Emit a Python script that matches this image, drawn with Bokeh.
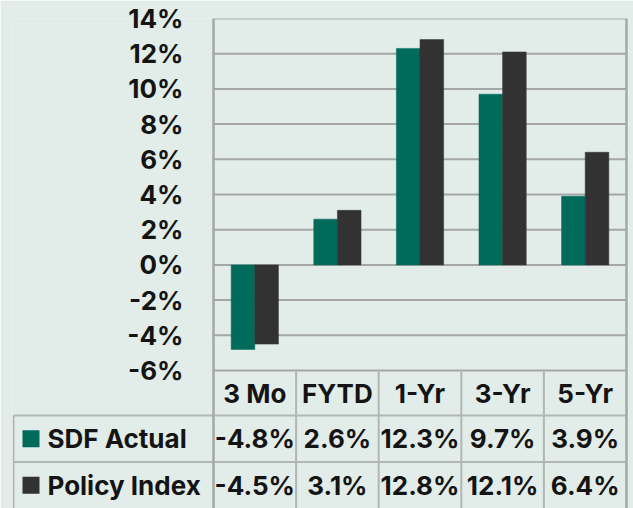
from bokeh.plotting import figure
from bokeh.models import Range1d, FixedTicker, PrintfTickFormatter, ColumnDataSource
from bokeh.core.properties import value
from bokeh.embed import file_html
from bokeh.resources import INLINE

# ---- data ----
categories = ["3 Mo", "FYTD", "1-Yr", "3-Yr", "5-Yr"]
sdf_actual = [-4.8, 2.6, 12.3, 9.7, 3.9]
policy_index = [-4.5, 3.1, 12.8, 12.1, 6.4]
series_names = ["SDF Actual", "Policy Index"]
y_ticks = [-6, -4, -2, 0, 2, 4, 6, 8, 10, 12, 14]

# ---- style / layout ----
BG = "#E2ECE8"
GREEN = "#006A5B"
DARK = "#323232"
GRID = "#A4A7A6"
TLINE = "#B2B6B4"
TXT = "#141414"
FONT = "Inter"
FS = "26px"

W, H = 633, 508
border_left, border_right, border_top = 12, 5, 18
label_col_px = 201.0          # width of the table's row-label column
col_px = 82.6                 # width of one category column
px_per_unit = 17.6            # pixels per 1 %
header_px = 45.0
row_px = 46.5
ncat = len(categories)
nrows = len(series_names)
y_min, y_max = y_ticks[0], y_ticks[-1]

x_start = -label_col_px / col_px
x_end = ncat + 2.0 / col_px
frame_h = H - border_top
y_start = y_max - frame_h / px_per_unit
header_u = header_px / px_per_unit
row_u = row_px / px_per_unit
header_bot = y_min - header_u
table_bot = y_start

p = figure(x_range=Range1d(x_start, x_end), y_range=Range1d(y_start, y_max),
           width=W, height=H, output_backend="svg", toolbar_location=None,
           x_axis_location=None,
           min_border_left=border_left, min_border_right=border_right,
           min_border_top=border_top, min_border_bottom=0,
           background_fill_color=BG, border_fill_color=BG)
p.outline_line_color = None
p.xgrid.visible = False
p.ygrid.visible = False

# grid lines (from the y ticks, across the category area only)
p.segment(x0=[0] * len(y_ticks), y0=y_ticks, x1=[ncat] * len(y_ticks), y1=y_ticks,
          line_color=GRID, line_width=2)

# bars
xc = [i + 0.5 for i in range(ncat)]
bw = 0.286
src = ColumnDataSource(dict(
    xs=[x - bw / 2 for x in xc], xp=[x + bw / 2 for x in xc],
    cat=categories, xc=xc, sdf=sdf_actual, pol=policy_index))
p.vbar(x="xs", top="sdf", bottom=0, width=bw, source=src,
       fill_color=GREEN, line_color=GREEN, line_width=0.5)
p.vbar(x="xp", top="pol", bottom=0, width=bw, source=src,
       fill_color=DARK, line_color=DARK, line_width=0.5)

# table lines
edge = x_start + 1.0 / col_px
row_lines = [header_bot - k * row_u for k in range(nrows)]
p.segment(x0=[edge] * nrows, y0=row_lines, x1=[ncat] * nrows, y1=row_lines,
          line_color=TLINE, line_width=2)
inner = list(range(1, ncat))
p.segment(x0=inner, y0=[y_min] * len(inner), x1=inner, y1=[table_bot] * len(inner),
          line_color=TLINE, line_width=2)
p.segment(x0=[edge], y0=[header_bot], x1=[edge], y1=[table_bot],
          line_color=TLINE, line_width=2)
# axis line (left of plot area) and right border
p.segment(x0=[0, ncat], y0=[table_bot, table_bot], x1=[0, ncat], y1=[y_max, y_max],
          line_color=GRID, line_width=2.5)

# header row
p.text(x="xc", y=y_min - header_u / 2, text="cat", source=src,
       text_align="center", text_baseline="middle", text_font=value(FONT),
       text_font_style="bold", text_font_size=FS, text_color=TXT)

# rows
row_y = [header_bot - (k + 0.5) * row_u for k in range(nrows)]
p.scatter(x=[x_start + 18.5 / col_px] * nrows, y=row_y, marker="square",
          size=17, fill_color=[GREEN, DARK], line_color=None)
p.text(x=[x_start + 35.0 / col_px] * nrows, y=row_y, text=series_names,
       text_align="left", text_baseline="middle", text_font=value(FONT),
       text_font_style="bold", text_font_size=FS, text_color=TXT)

vals_x, vals_y, vals_t = [], [], []
for ri, series in enumerate([sdf_actual, policy_index]):
    for ci, v in enumerate(series):
        vals_x.append(xc[ci])
        vals_y.append(row_y[ri])
        vals_t.append(f"{v:.1f}%")
p.text(x=vals_x, y=vals_y, text=vals_t, text_align="center", text_baseline="middle",
       text_font=value(FONT), text_font_style="bold", text_font_size=FS, text_color=TXT)

# y axis: real axis, labels placed inside the frame next to the plot area
ax = p.yaxis[0]
ax.ticker = FixedTicker(ticks=y_ticks)
ax.formatter = PrintfTickFormatter(format="%d%%")
ax.major_label_text_font = FONT
ax.major_label_text_font_style = "bold"
ax.major_label_text_font_size = FS
ax.major_label_text_color = TXT
ax.axis_line_color = None
ax.major_tick_line_color = None
ax.minor_tick_line_color = None
ax.major_tick_out = 0
ax.major_tick_in = 0
ax.minor_tick_out = 0
ax.minor_tick_in = 0
ax.major_label_standoff = -int(label_col_px - 30)

open("out.html", "w").write(file_html(p, INLINE))
